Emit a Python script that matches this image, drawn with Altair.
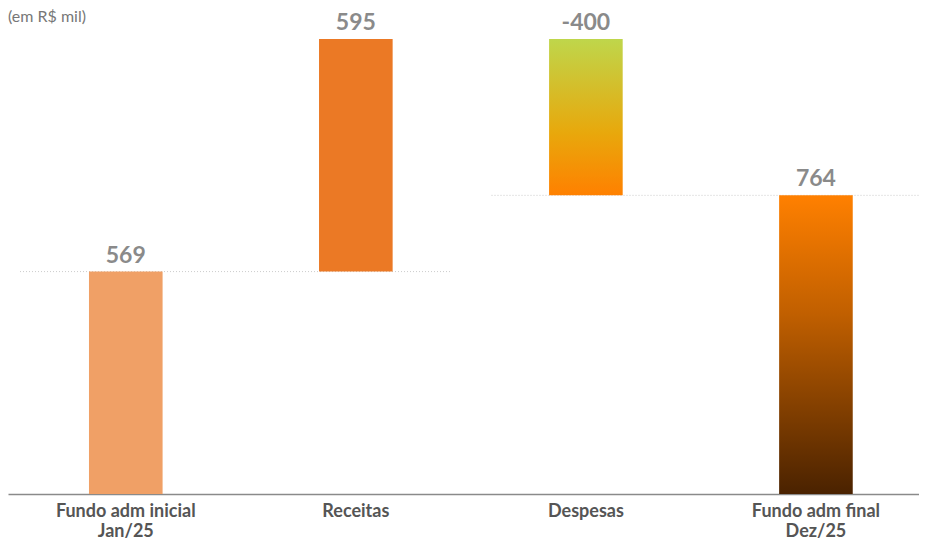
import altair as alt
import pandas as pd

categories = ["Fundo adm inicial|Jan/25", "Receitas", "Despesas", "Fundo adm final|Dez/25"]
values = [569, 595, -400, 764]
kinds = ["total", "delta", "delta", "total"]
value_labels = ["569", "595", "-400", "764"]
unit_note = "(em R$ mil)"

starts, ends = [], []
running = 0
for v, k in zip(values, kinds):
    if k == "total":
        starts.append(0)
        ends.append(v)
        running = v
    else:
        starts.append(running)
        running = running + v
        ends.append(running)

df = pd.DataFrame({
    "cat": categories,
    "start": starts,
    "end": ends,
    "top": [max(s, e) for s, e in zip(starts, ends)],
    "label": value_labels,
    "idx": list(range(len(categories))),
})

# dotted connectors: span from the slot of category i to the slot of category i+1
conn = pd.DataFrame({
    "slot_from": [0, 2],
    "slot_to": [2, 4],
    "level": [ends[0], ends[2]],
    "k": [0, 1],
})

xscale = alt.Scale(domain=categories, paddingInner=0.68, paddingOuter=0.32, align=0.55)
yscale = alt.Scale(domain=[0, 1164], nice=False, zero=True)
slot_scale = alt.Scale(domain=[0, 4], nice=False, zero=False)

xenc = alt.X("cat:N", scale=xscale, sort=categories,
             axis=alt.Axis(title=None, ticks=False, labelAngle=0,
                           labelExpr="split(datum.label, '|')",
                           labelFont="Lato", labelFontWeight="bold", labelFontSize=18,
                           labelColor="#555555", labelPadding=8, labelLineHeight=20,
                           domainColor="#8a8a8a", domainWidth=1.5, grid=False))
yenc = alt.Y("start:Q", scale=yscale, axis=None)

base = alt.Chart(df)

solid = base.mark_bar().encode(
    x=xenc, y=yenc, y2="end:Q",
    color=alt.Color("cat:N", scale=alt.Scale(domain=categories[:2], range=["#F0A066", "#EB7925"]), legend=None),
).transform_filter("datum.idx < 2")

grad3 = base.mark_bar(color=alt.Gradient(
    gradient="linear", x1=0, y1=0, x2=0, y2=1,
    stops=[alt.GradientStop(color="#BFD64B", offset=0),
           alt.GradientStop(color="#E8A80C", offset=0.6),
           alt.GradientStop(color="#FF8000", offset=1)])).encode(
    x=xenc, y=yenc, y2="end:Q").transform_filter("datum.idx == 2")

grad4 = base.mark_bar(color=alt.Gradient(
    gradient="linear", x1=0, y1=0, x2=0, y2=1,
    stops=[alt.GradientStop(color="#FF8000", offset=0),
           alt.GradientStop(color="#C05F00", offset=0.4),
           alt.GradientStop(color="#4A2200", offset=1)])).encode(
    x=xenc, y=yenc, y2="end:Q").transform_filter("datum.idx == 3")

labels = base.mark_text(font="Lato", fontWeight="bold", fontSize=23, color="#8a8a8a",
                        baseline="bottom", dy=-4).encode(
    x=alt.X("cat:N", scale=xscale, sort=categories),
    y=alt.Y("top:Q", scale=yscale),
    text="label:N",
)

rule_a = alt.Chart(conn).mark_rule(color="#cccccc", strokeDash=[1, 2], strokeWidth=1,
                                   xOffset=12, x2Offset=-13).encode(
    x=alt.X("slot_from:Q", scale=slot_scale, axis=None),
    x2="slot_to:Q",
    y=alt.Y("level:Q", scale=yscale),
).transform_filter("datum.k == 0")

rule_b = alt.Chart(conn).mark_rule(color="#cccccc", strokeDash=[1, 2], strokeWidth=1,
                                   xOffset=28, x2Offset=0).encode(
    x=alt.X("slot_from:Q", scale=slot_scale, axis=None),
    x2="slot_to:Q",
    y=alt.Y("level:Q", scale=yscale),
).transform_filter("datum.k == 1")

note = alt.Chart(pd.DataFrame({"t": [unit_note]})).mark_text(
    font="Lato", fontSize=16, color="#777777", align="left", baseline="top").encode(
    x=alt.value(0), y=alt.value(-30), text="t:N")

inner = alt.layer(solid, grad3, grad4, labels)

chart = alt.layer(rule_a, rule_b, inner, note).resolve_scale(x="independent").properties(
    width=911, height=455,
    autosize=alt.AutoSizeParams(type="none"),
    padding={"left": 0, "top": 31, "right": 0, "bottom": 48},
).configure_view(stroke=None)

chart.save("out.html", embed_options={"renderer": "svg", "actions": False})
